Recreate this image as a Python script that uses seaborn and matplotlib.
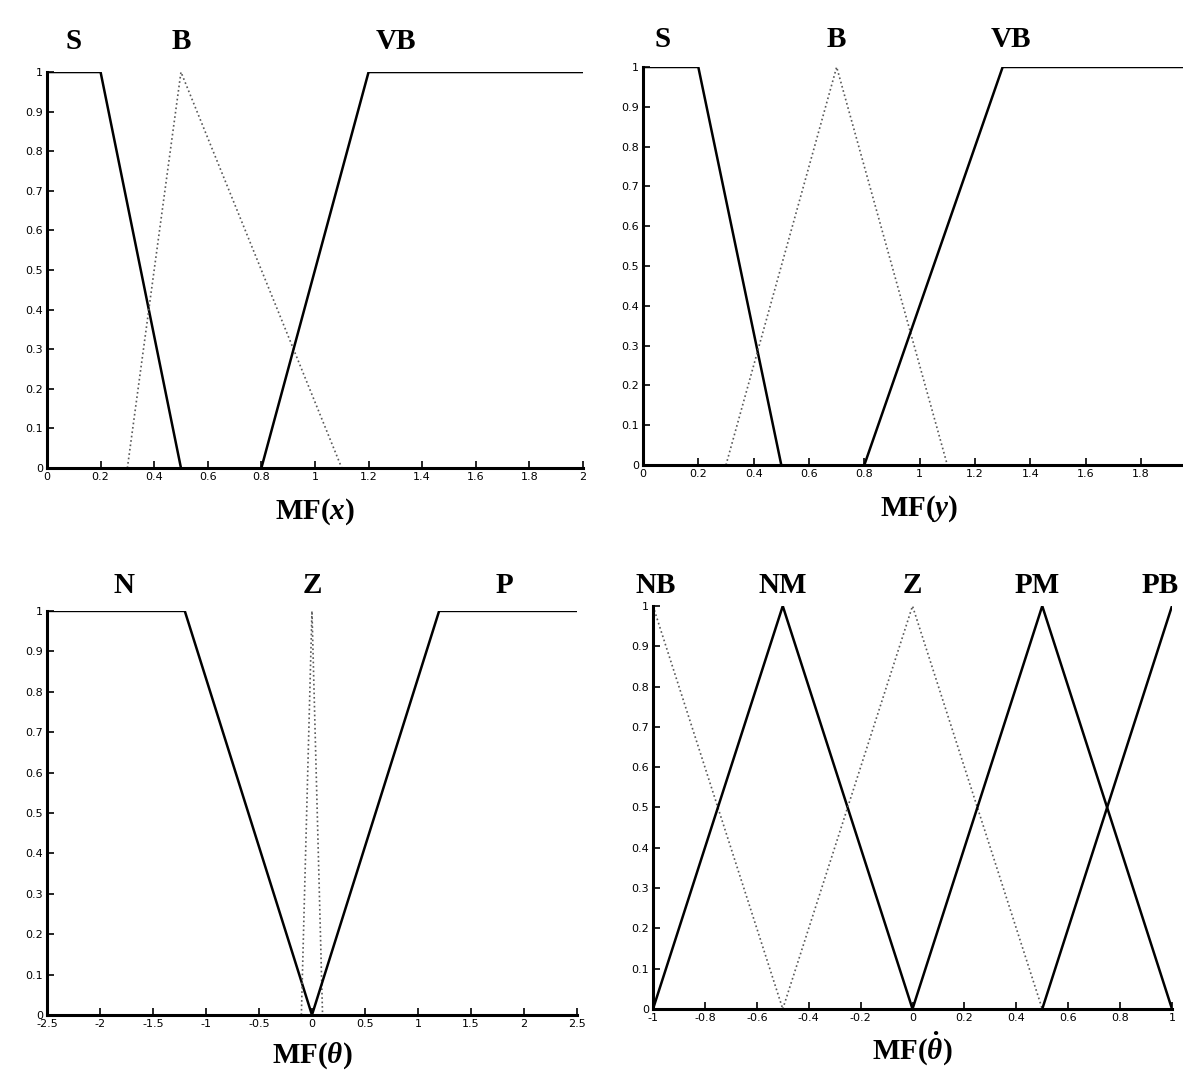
import numpy as np
import pandas as pd
import matplotlib
matplotlib.use("Agg")
import matplotlib.pyplot as plt
import seaborn as sns

# membership function break points

# MF(x)
x_S_pts = [0, 0.2, 0.5]
x_S_val = [1, 1, 0]
x_B_pts = [0.3, 0.5, 1.1]
x_B_val = [0, 1, 0]
x_VB_pts = [0.8, 1.2, 2.0]
x_VB_val = [0, 1, 1]

# MF(y)
y_S_pts = [0, 0.2, 0.5]
y_S_val = [1, 1, 0]
y_B_pts = [0.3, 0.7, 1.1]
y_B_val = [0, 1, 0]
y_VB_pts = [0.8, 1.3, 2.0]
y_VB_val = [0, 1, 1]

# MF(theta)
th_N_pts = [-2.5, -1.2, 0.0]
th_N_val = [1, 1, 0]
th_Z_pts = [-0.1, 0.0, 0.1]
th_Z_val = [0, 1, 0]
th_P_pts = [0.0, 1.2, 2.5]
th_P_val = [0, 1, 1]

# MF(theta dot)
dth_NB_pts = [-1.0, -0.5]
dth_NB_val = [1, 0]
dth_NM_pts = [-1.0, -0.5, 0.0]
dth_NM_val = [0, 1, 0]
dth_Z_pts = [-0.5, 0.0, 0.5]
dth_Z_val = [0, 1, 0]
dth_PM_pts = [0.0, 0.5, 1.0]
dth_PM_val = [0, 1, 0]
dth_PB_pts = [0.5, 1.0]
dth_PB_val = [0, 1]

yticks = [0, 0.1, 0.2, 0.3, 0.4, 0.5, 0.6, 0.7, 0.8, 0.9, 1]
ytick_labels = ['0', '0.1', '0.2', '0.3', '0.4', '0.5', '0.6', '0.7', '0.8', '0.9', '1']

sns.set_style("ticks")
plt.rcParams['axes.unicode_minus'] = False
plt.rcParams['text.color'] = 'black'
plt.rcParams['axes.labelcolor'] = 'black'
plt.rcParams['mathtext.fontset'] = 'custom'
plt.rcParams['mathtext.rm'] = 'Liberation Serif:bold'
plt.rcParams['mathtext.it'] = 'Liberation Serif:italic:bold'
plt.rcParams['mathtext.bf'] = 'Liberation Serif:bold'

fig = plt.figure(figsize=(11.83, 10.72), dpi=100)

# axes placed to match the scanned layout (right panels run off the page)
ax1 = fig.add_axes([0.0397, 0.5634, 0.4531, 0.3694])
ax2 = fig.add_axes([0.5435, 0.5662, 0.4678, 0.3713])
ax3 = fig.add_axes([0.0397, 0.0532, 0.4480, 0.3769])
ax4 = fig.add_axes([0.5520, 0.0588, 0.4387, 0.3759])

solid = dict(color='black', linewidth=1.8, linestyle='-')
dotted = dict(color='0.35', linewidth=1.2, linestyle=':')

def mf(ax, xs, ys, style):
    sns.lineplot(x=xs, y=ys, ax=ax, sort=False, estimator=None, **style)

mf(ax1, x_S_pts, x_S_val, solid)
mf(ax1, x_B_pts, x_B_val, dotted)
mf(ax1, x_VB_pts, x_VB_val, solid)

mf(ax2, y_S_pts, y_S_val, solid)
mf(ax2, y_B_pts, y_B_val, dotted)
mf(ax2, y_VB_pts, y_VB_val, solid)

mf(ax3, th_N_pts, th_N_val, solid)
mf(ax3, th_Z_pts, th_Z_val, dotted)
mf(ax3, th_P_pts, th_P_val, solid)

mf(ax4, dth_NB_pts, dth_NB_val, dotted)
mf(ax4, dth_NM_pts, dth_NM_val, solid)
mf(ax4, dth_Z_pts, dth_Z_val, dotted)
mf(ax4, dth_PM_pts, dth_PM_val, solid)
mf(ax4, dth_PB_pts, dth_PB_val, solid)

# axis ranges and ticks
ax1.set_xlim(0, 2)
ax1.set_xticks(np.arange(0, 2.01, 0.2))
ax1.set_xticklabels(['0', '0.2', '0.4', '0.6', '0.8', '1', '1.2', '1.4', '1.6', '1.8', '2'])
ax2.set_xlim(0, 2)
ax2.set_xticks(np.arange(0, 1.81, 0.2))
ax2.set_xticklabels(['0', '0.2', '0.4', '0.6', '0.8', '1', '1.2', '1.4', '1.6', '1.8'])
ax3.set_xlim(-2.5, 2.5)
ax3.set_xticks(np.arange(-2.5, 2.51, 0.5))
ax3.set_xticklabels(['-2.5', '-2', '-1.5', '-1', '-0.5', '0', '0.5', '1', '1.5', '2', '2.5'])
ax4.set_xlim(-1, 1)
ax4.set_xticks(np.arange(-1, 1.01, 0.2))
ax4.set_xticklabels(['-1', '-0.8', '-0.6', '-0.4', '-0.2', '0', '0.2', '0.4', '0.6', '0.8', '1'])

for ax in [ax1, ax2, ax3, ax4]:
    ax.set_ylim(0, 1)
    ax.set_yticks(yticks)
    ax.set_yticklabels(ytick_labels)
    ax.tick_params(direction='in', length=5, width=1.2, labelsize=8, pad=3, colors='black')
    sns.despine(ax=ax)
    for s in ['left', 'bottom']:
        ax.spines[s].set_linewidth(2.2)
        ax.spines[s].set_color('black')
    ax.set_ylabel('')

lab = dict(ha='center', va='center', fontsize=21, fontweight='bold',
           family='Liberation Serif', clip_on=False, color='black')

for x, t in zip([0.1, 0.5, 1.3], ['S', 'B', 'VB']):
    ax1.text(x, 1.076, t, **lab)
for x, t in zip([0.07, 0.7, 1.33], ['S', 'B', 'VB']):
    ax2.text(x, 1.068, t, **lab)
for x, t in zip([-1.77, 0.0, 1.82], ['N', 'Z', 'P']):
    ax3.text(x, 1.064, t, **lab)
for x, t in zip([-0.99, -0.5, 0.0, 0.48, 0.955], ['NB', 'NM', 'Z', 'PM', 'PB']):
    ax4.text(x, 1.052, t, **lab)

xlab = dict(fontsize=21, fontweight='bold', family='Liberation Serif', color='black')
ax1.set_xlabel('MF($x$)', labelpad=10, **xlab)
ax2.set_xlabel('MF($y$)', labelpad=10, **xlab)
ax3.set_xlabel(r'MF($\theta$)', labelpad=8, **xlab)
ax4.set_xlabel(r'MF($\dot{\theta}$)', labelpad=5, **xlab)

fig.savefig('out.png', dpi=100)
